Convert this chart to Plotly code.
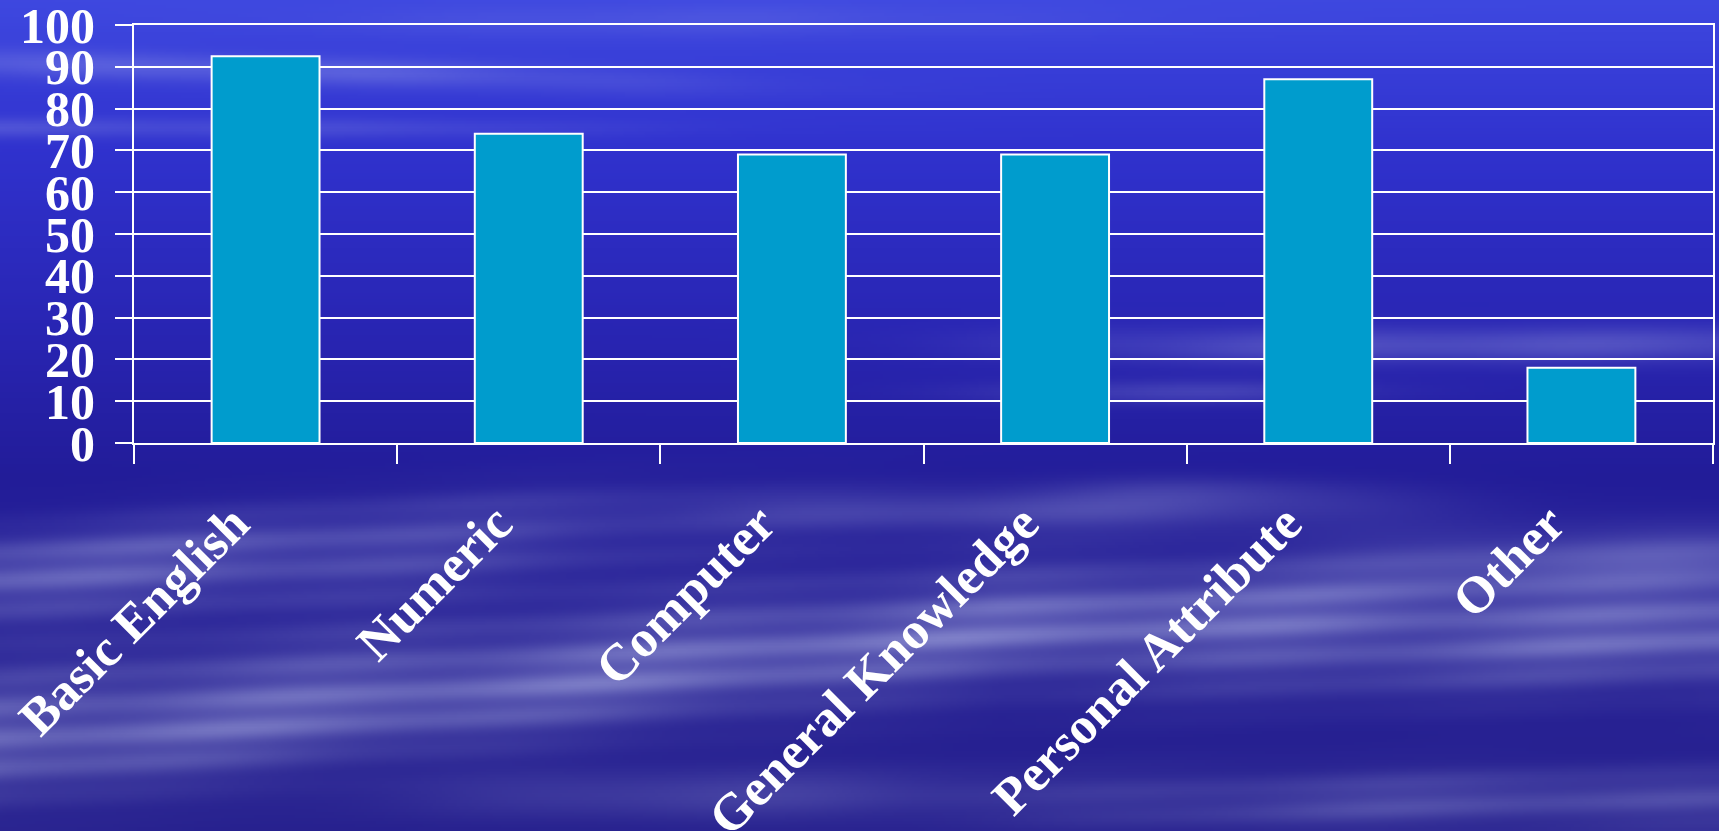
import base64
import struct
import zlib

import numpy as np
import plotly.graph_objects as go

# ---------------- data ----------------
categories = ["Basic English", "Numeric", "Computer", "General Knowledge",
              "Personal Attribute", "Other"]
values = [92.5, 74, 69, 69, 87, 18]
y_ticks = [0, 10, 20, 30, 40, 50, 60, 70, 80, 90, 100]

# ---------------- page geometry ----------------
FIG_W, FIG_H = 1719, 831
M_L, M_R, M_T, M_B = 134, 6, 25, 388
PLOT_W = FIG_W - M_L - M_R
PLOT_H = FIG_H - M_T - M_B


# ---------------- decorative sky background (deterministic) ----------------
def make_background():
    w, h = 573, 277
    X = (np.arange(w) + 0.5) * FIG_W / w
    Y = (np.arange(h) + 0.5) * FIG_H / h
    XX, YY = np.meshgrid(X, Y)
    stops_y = [0, 150, 350, 480, 831]
    stops_c = [(62, 72, 224), (48, 50, 206), (40, 36, 176), (34, 28, 152), (38, 32, 142)]
    base = np.stack([np.interp(YY, stops_y, [c[i] for c in stops_c]) for i in range(3)], -1)

    def band(cy, width, amp):
        return amp * np.exp(-((YY - cy) / width) ** 2)

    def win(x0, x1, soft):
        return 1 / (1 + np.exp(-(XX - x0) / soft)) * 1 / (1 + np.exp((XX - x1) / soft))

    streak = 0.65 + 0.35 * np.sin(YY / 10 + XX / 260) ** 2
    cloud = np.zeros_like(XX)
    # upper wisps
    cloud += band(62 + 0.03 * XX, 14, 0.28) * win(-500, 650, 90)
    cloud += band(128, 10, 0.22) * win(-500, 520, 90)
    cloud += band(20, 16, 0.15) * win(400, 1000, 120)
    # middle right
    cloud += band(345, 18, 0.30) * win(1050, 2400, 70)
    cloud += band(392, 12, 0.24) * win(1020, 1330, 60)
    # lower clouds
    cloud += band(np.where(XX < 1000, 735 - 0.11 * XX, 625.0), 60, 0.60) * streak
    cloud += band(580 - 0.08 * XX, 45, 0.55) * win(-500, 560, 140) * streak
    cloud += band(510, 20, 0.28) * win(700, 1350, 100)
    cloud += band(490, 15, 0.20) * win(1100, 1300, 60)
    cloud += band(800, 30, 0.35) * win(1100, 2400, 120) * streak
    cloud += band(795, 25, 0.25) * win(500, 950, 100)
    cloud += band(560, 30, 0.30) * win(1400, 2400, 100)
    texture = 0.8 + 0.2 * np.sin(XX / 70 + YY / 25) * np.sin(XX / 160 - YY / 60)
    cloud = np.clip(cloud * texture, 0, 0.75)
    white = np.array([190, 196, 238], dtype=float)
    img = base * (1 - cloud[..., None]) + white * cloud[..., None]
    img = np.clip(img, 0, 255).astype(np.uint8)

    raw = b"".join(b"\x00" + row.tobytes() for row in img)

    def chunk(tag, data):
        c = struct.pack(">I", len(data)) + tag + data
        return c + struct.pack(">I", zlib.crc32(tag + data) & 0xFFFFFFFF)

    png = b"\x89PNG\r\n\x1a\n"
    png += chunk(b"IHDR", struct.pack(">IIBBBBB", w, h, 8, 2, 0, 0, 0))
    png += chunk(b"IDAT", zlib.compress(raw, 9))
    png += chunk(b"IEND", b"")
    return "data:image/png;base64," + base64.b64encode(png).decode()


bg = make_background()

serif = "Liberation Serif, Times New Roman, serif"
y_font = dict(family=serif, size=50, color="white", weight="bold")
x_font = dict(family=serif, size=52, color="white", weight="bold")

fig = go.Figure()
fig.add_trace(go.Bar(
    x=categories,
    y=values,
    marker=dict(color="#009CCD", line=dict(color="white", width=2)),
    hoverinfo="x+y",
))

fig.update_layout(
    width=FIG_W,
    height=FIG_H,
    margin=dict(l=M_L, r=M_R, t=M_T, b=M_B, autoexpand=False),
    paper_bgcolor="#2a2aa8",
    plot_bgcolor="rgba(0,0,0,0)",
    bargap=0.59,
    showlegend=False,
    images=[dict(
        source=bg,
        xref="paper", yref="paper",
        x=-M_L / PLOT_W, y=1 + M_T / PLOT_H,
        sizex=FIG_W / PLOT_W, sizey=FIG_H / PLOT_H,
        xanchor="left", yanchor="top",
        sizing="stretch", layer="below",
    )],
    xaxis=dict(
        type="category",
        showline=True, linecolor="white", linewidth=2, mirror=True,
        ticks="outside", tickson="boundaries", ticklen=19, tickwidth=2,
        tickcolor="white",
        tickangle=-45,
        tickfont=x_font,
        ticklabelstandoff=27,
        ticklabelshift=-32,
        ticklabeloverflow="allow",
        showgrid=False,
        automargin=False,
    ),
    yaxis=dict(
        range=[0, 100],
        tickvals=y_ticks,
        showgrid=True, gridcolor="white", gridwidth=2,
        zeroline=False,
        showline=True, linecolor="white", linewidth=2, mirror=True,
        ticks="outside", ticklen=17, tickwidth=2, tickcolor="white",
        tickfont=y_font,
        ticklabelstandoff=10,
        ticklabeloverflow="allow",
        automargin=False,
    ),
)

fig.write_html("out.html")
